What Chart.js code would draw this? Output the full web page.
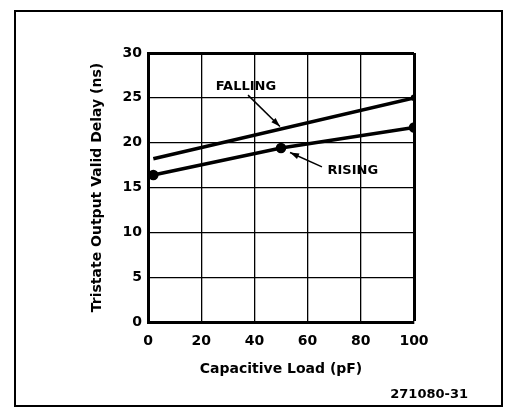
<!DOCTYPE html>
<html><head><meta charset="utf-8">
<script src="https://cdn.jsdelivr.net/npm/chart.js@4/dist/chart.umd.min.js"></script>
<style>
html,body{margin:0;padding:0;background:#fff;}
#wrap{position:relative;width:506px;height:414px;}
#frame{position:absolute;left:14px;top:10px;width:489px;height:397px;border:2px solid #000;box-sizing:border-box;}
canvas{position:absolute;left:0;top:0;}
</style></head>
<body>
<div id="wrap"><div id="frame"></div><canvas id="c" width="506" height="414"></canvas></div>
<script>
// Data
const xTicks = [0, 20, 40, 60, 80, 100];
const yTicks = [0, 5, 10, 15, 20, 25, 30];
const fallingX = [2, 100];
const fallingY = [18.2, 25.0];
const risingX = [2, 50, 100];
const risingY = [16.4, 19.4, 21.7];
// Annotation anchors in data units: [textX, textY, arrowFromX, arrowFromY, arrowToX, arrowToY]
const annoLabels = ['FALLING', 'RISING'];
const annoPos = [[36.8, 26.3, 37.6, 25.3, 49.6, 21.8], [77, 16.9, 65.4, 17.3, 53.4, 18.9]];
const figId = '271080-31';

const FONT = 'DejaVu Sans';
const annoPlugin = {
  id: 'anno',
  afterDatasetsDraw(chart) {
    const {ctx, scales: {x, y}} = chart;
    ctx.save();
    ctx.fillStyle = '#000'; ctx.strokeStyle = '#000';
    ctx.font = 'bold 13px "' + FONT + '"';
    ctx.textAlign = 'center'; ctx.textBaseline = 'middle';
    annoLabels.forEach((t, i) => {
      const p = annoPos[i];
      ctx.fillText(t, x.getPixelForValue(p[0]), y.getPixelForValue(p[1]));
      const x1 = x.getPixelForValue(p[2]), y1 = y.getPixelForValue(p[3]);
      const x2 = x.getPixelForValue(p[4]), y2 = y.getPixelForValue(p[5]);
      ctx.lineWidth = 1.5;
      ctx.beginPath(); ctx.moveTo(x1, y1); ctx.lineTo(x2, y2); ctx.stroke();
      const a = Math.atan2(y2 - y1, x2 - x1), L = 9, W = 3;
      ctx.beginPath();
      ctx.moveTo(x2, y2);
      ctx.lineTo(x2 - L * Math.cos(a) + W * Math.sin(a), y2 - L * Math.sin(a) - W * Math.cos(a));
      ctx.lineTo(x2 - L * Math.cos(a) - W * Math.sin(a), y2 - L * Math.sin(a) + W * Math.cos(a));
      ctx.closePath(); ctx.fill();
    });
    ctx.font = 'bold 13px "' + FONT + '"';
    ctx.textAlign = 'right';
    ctx.fillText(figId, 468, 395);
    ctx.restore();
  }
};

new Chart(document.getElementById('c'), {
  type: 'scatter',
  data: {
    datasets: [
      { label: 'FALLING', data: fallingX.map((v, i) => ({x: v, y: fallingY[i]})), showLine: true,
        borderColor: '#000', backgroundColor: '#000', borderWidth: 3.5, pointRadius: [0, 1.5], tension: 0 },
      { label: 'RISING', data: risingX.map((v, i) => ({x: v, y: risingY[i]})), showLine: true,
        borderColor: '#000', backgroundColor: '#000', borderWidth: 3.5, pointRadius: 3.5, tension: 0 }
    ]
  },
  options: {
    responsive: false, animation: false, devicePixelRatio: 1,
    layout: { padding: { left: 88.6, right: 92, top: 53, bottom: 36.6 } },
    plugins: { legend: { display: false }, tooltip: { enabled: false } },
    scales: {
      x: {
        type: 'linear', min: 0, max: 100,
        afterBuildTicks: s => { s.ticks = xTicks.map(v => ({value: v})); },
        afterFit: s => { s.height = 55.4; },
        ticks: { color: '#000', font: { family: FONT, size: 14, weight: 'bold' }, padding: 11 },
        grid: { color: '#000', lineWidth: c => (c.tick && c.tick.value === 100 ? 3 : 1.3), drawTicks: false },
        border: { color: '#000', width: 3 },
        title: { display: true, text: 'Capacitive Load (pF)', color: '#000', padding: 0,
                 font: { family: FONT, size: 14, weight: 'bold' } }
      },
      y: {
        type: 'linear', min: 0, max: 30,
        afterBuildTicks: s => { s.ticks = yTicks.map(v => ({value: v})); },
        afterFit: s => { s.width = 59.4; },
        ticks: { color: '#000', font: { family: FONT, size: 14, weight: 'bold' }, padding: 6 },
        grid: { color: '#000', lineWidth: c => (c.tick && c.tick.value === 30 ? 3 : 1.3), drawTicks: false },
        border: { color: '#000', width: 3 },
        title: { display: true, text: 'Tristate Output Valid Delay (ns)', color: '#000', padding: 0,
                 font: { family: FONT, size: 14, weight: 'bold' } }
      }
    }
  },
  plugins: [annoPlugin]
});
</script>
</body></html>
